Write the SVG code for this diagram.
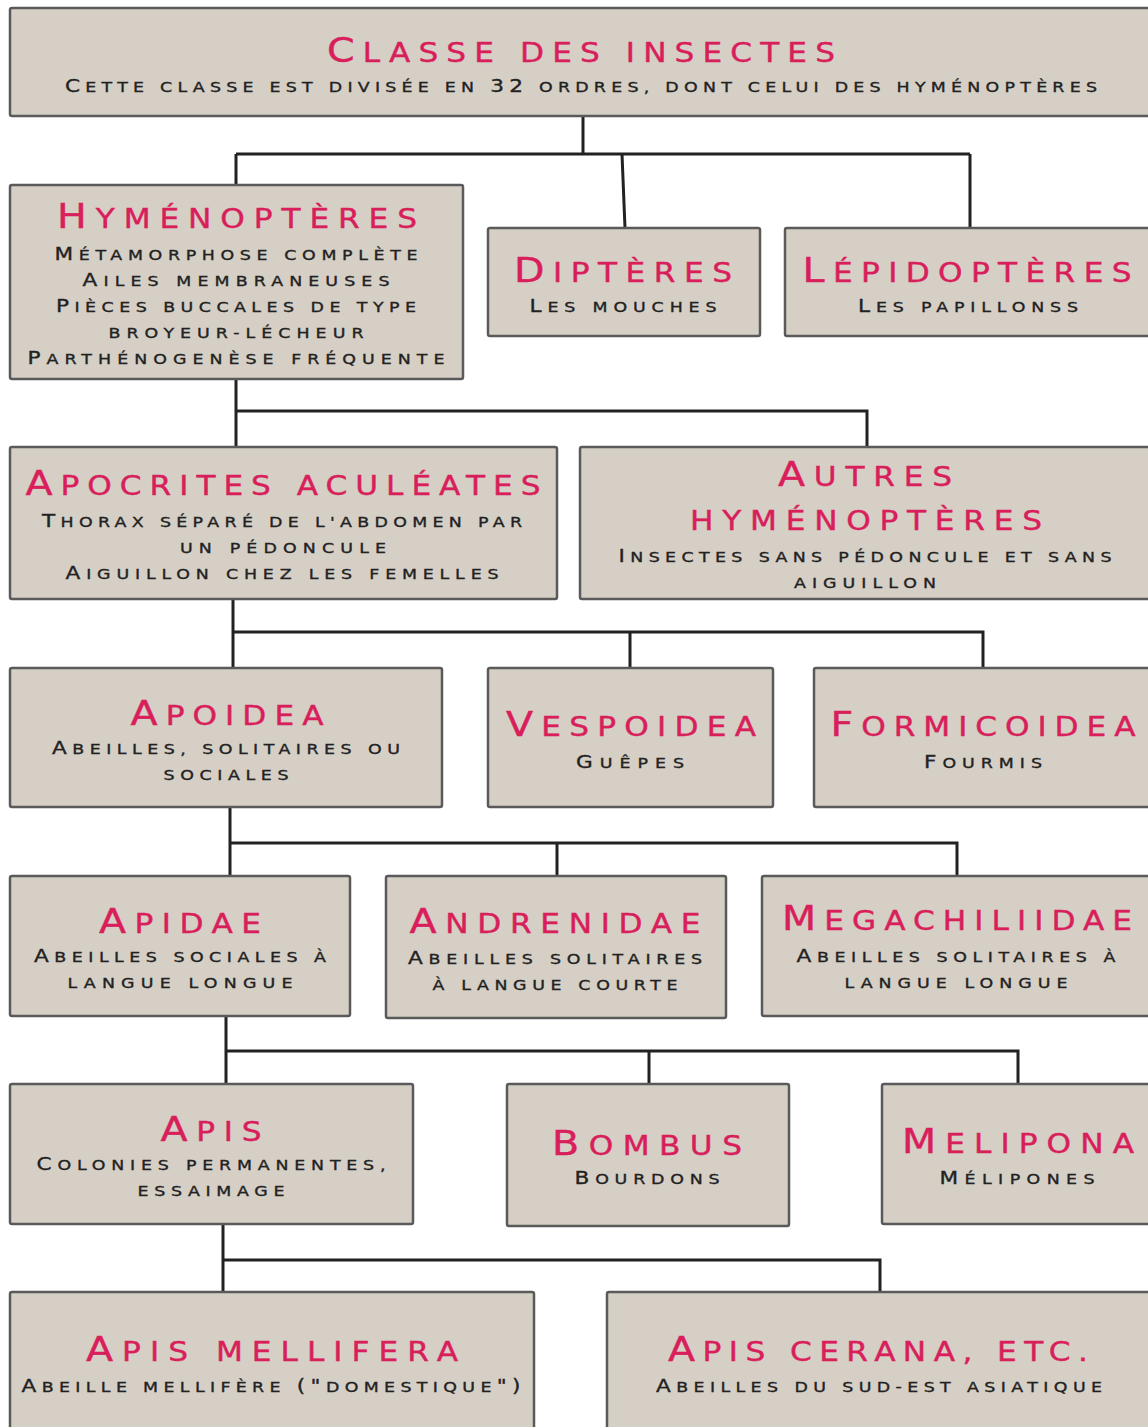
<svg xmlns="http://www.w3.org/2000/svg" width="1148" height="1427" viewBox="0 0 1148 1427">
<style>
.box{fill:#d6cfc5;stroke:#5a5a5a;stroke-width:2.5}
.t{font-family:"DejaVu Sans",sans-serif;font-size:26px;fill:#d81e5b;stroke:#d81e5b;stroke-width:0.4;text-anchor:middle}
.t .b{font-size:33px}
.s{font-family:"DejaVu Sans",sans-serif;font-size:14.5px;fill:#222;stroke:#222;stroke-width:0.35;text-anchor:middle}
.s .b{font-size:18px}
.c{fill:none;stroke:#222;stroke-width:3}
</style>
<rect width="1148" height="1427" fill="#fff"/>
<g id="connectors">
<path class="c" d="M583,116V154M236,154H970M236,154V185M622,154L625,228M970,154V228"/>
<path class="c" d="M236,379V411H867V447M236,411V447"/>
<path class="c" d="M233,599V632H983V668M233,632V668M630,632V668"/>
<path class="c" d="M230,807V843H957V876M230,843V876M557,843V876"/>
<path class="c" d="M226,1016V1051H1018V1084M226,1051V1084M649,1051V1084"/>
<path class="c" d="M223,1224V1260H880V1292M223,1260V1292"/>
</g>
<g id="insectes">
<rect class="box" x="10" y="8" width="1150" height="108" rx="2"/>
<text class="t" transform="translate(581 62) scale(1.2 1)" textLength="423.3"><tspan class="b">C</tspan>LASSE DES INSECTES</text>
<text class="s" transform="translate(581 92) scale(1.2 1)" textLength="860"><tspan class="b">C</tspan>ETTE CLASSE EST DIVISÉE EN <tspan class="b">32</tspan> ORDRES, DONT CELUI DES HYMÉNOPTÈRES</text>
</g>
<g id="hymenopteres">
<rect class="box" x="10" y="185" width="453" height="194" rx="2"/>
<text class="t" transform="translate(237 228) scale(1.2 1)" textLength="300"><tspan class="b">H</tspan>YMÉNOPTÈRES</text>
<text class="s" transform="translate(236 260) scale(1.2 1)" textLength="302.5"><tspan class="b">M</tspan>ÉTAMORPHOSE COMPLÈTE</text>
<text class="s" transform="translate(236 286) scale(1.2 1)" textLength="255.8"><tspan class="b">A</tspan>ILES MEMBRANEUSES</text>
<text class="s" transform="translate(236 312) scale(1.2 1)" textLength="300"><tspan class="b">P</tspan>IÈCES BUCCALES DE TYPE</text>
<text class="s" transform="translate(236 338) scale(1.2 1)" textLength="212.5">BROYEUR-LÉCHEUR</text>
<text class="s" transform="translate(236 364) scale(1.2 1)" textLength="347.5"><tspan class="b">P</tspan>ARTHÉNOGENÈSE FRÉQUENTE</text>
</g>
<g id="dipteres">
<rect class="box" x="488" y="228" width="272" height="108" rx="2"/>
<text class="t" transform="translate(623 282) scale(1.2 1)" textLength="181.7"><tspan class="b">D</tspan>IPTÈRES</text>
<text class="s" transform="translate(623 312) scale(1.2 1)" textLength="155.8"><tspan class="b">L</tspan>ES MOUCHES</text>
</g>
<g id="lepidopteres">
<rect class="box" x="785" y="228" width="375" height="108" rx="2"/>
<text class="t" transform="translate(967 282) scale(1.2 1)" textLength="274.2"><tspan class="b">L</tspan>ÉPIDOPTÈRES</text>
<text class="s" transform="translate(968 312) scale(1.2 1)" textLength="183.3"><tspan class="b">L</tspan>ES PAPILLONSS</text>
</g>
<g id="apocrites">
<rect class="box" x="10" y="447" width="547" height="152" rx="2"/>
<text class="t" transform="translate(283 495) scale(1.2 1)" textLength="429.2"><tspan class="b">A</tspan>POCRITES ACULÉATES</text>
<text class="s" transform="translate(282 527) scale(1.2 1)" textLength="400"><tspan class="b">T</tspan>HORAX SÉPARÉ DE L'ABDOMEN PAR</text>
<text class="s" transform="translate(283 553) scale(1.2 1)" textLength="171.7">UN PÉDONCULE</text>
<text class="s" transform="translate(282 579) scale(1.2 1)" textLength="360.8"><tspan class="b">A</tspan>IGUILLON CHEZ LES FEMELLES</text>
</g>
<g id="autres">
<rect class="box" x="580" y="447" width="580" height="152" rx="2"/>
<text class="t" transform="translate(865 486) scale(1.2 1)" textLength="145"><tspan class="b">A</tspan>UTRES</text>
<text class="t" transform="translate(866 530) scale(1.2 1)" textLength="293.3">HYMÉNOPTÈRES</text>
<text class="s" transform="translate(865 562) scale(1.2 1)" textLength="410.8"><tspan class="b">I</tspan>NSECTES SANS PÉDONCULE ET SANS</text>
<text class="s" transform="translate(865 588) scale(1.2 1)" textLength="118.3">AIGUILLON</text>
</g>
<g id="apoidea">
<rect class="box" x="10" y="668" width="432" height="139" rx="2"/>
<text class="t" transform="translate(227 725) scale(1.2 1)" textLength="160.8"><tspan class="b">A</tspan>POIDEA</text>
<text class="s" transform="translate(226 754) scale(1.2 1)" textLength="290"><tspan class="b">A</tspan>BEILLES, SOLITAIRES OU</text>
<text class="s" transform="translate(226 780) scale(1.2 1)" textLength="104.2">SOCIALES</text>
</g>
<g id="vespoidea">
<rect class="box" x="488" y="668" width="285" height="139" rx="2"/>
<text class="t" transform="translate(631 736) scale(1.2 1)" textLength="208.3"><tspan class="b">V</tspan>ESPOIDEA</text>
<text class="s" transform="translate(630 768) scale(1.2 1)" textLength="90"><tspan class="b">G</tspan>UÊPES</text>
</g>
<g id="formicoidea">
<rect class="box" x="814" y="668" width="346" height="139" rx="2"/>
<text class="t" transform="translate(983 736) scale(1.2 1)" textLength="254.2"><tspan class="b">F</tspan>ORMICOIDEA</text>
<text class="s" transform="translate(983 768) scale(1.2 1)" textLength="98.3"><tspan class="b">F</tspan>OURMIS</text>
</g>
<g id="apidae">
<rect class="box" x="10" y="876" width="340" height="140" rx="2"/>
<text class="t" transform="translate(180 933) scale(1.2 1)" textLength="135"><tspan class="b">A</tspan>PIDAE</text>
<text class="s" transform="translate(180 962) scale(1.2 1)" textLength="243.3"><tspan class="b">A</tspan>BEILLES SOCIALES À</text>
<text class="s" transform="translate(180 988) scale(1.2 1)" textLength="187.5">LANGUE LONGUE</text>
</g>
<g id="andrenidae">
<rect class="box" x="386" y="876" width="340" height="142" rx="2"/>
<text class="t" transform="translate(555 933) scale(1.2 1)" textLength="242.5"><tspan class="b">A</tspan>NDRENIDAE</text>
<text class="s" transform="translate(555 964) scale(1.2 1)" textLength="245"><tspan class="b">A</tspan>BEILLES SOLITAIRES</text>
<text class="s" transform="translate(555 990) scale(1.2 1)" textLength="204.2">À LANGUE COURTE</text>
</g>
<g id="megachiliidae">
<rect class="box" x="762" y="876" width="398" height="140" rx="2"/>
<text class="t" transform="translate(957 930) scale(1.2 1)" textLength="291.7"><tspan class="b">M</tspan>EGACHILIIDAE</text>
<text class="s" transform="translate(956 962) scale(1.2 1)" textLength="265.8"><tspan class="b">A</tspan>BEILLES SOLITAIRES À</text>
<text class="s" transform="translate(956 988) scale(1.2 1)" textLength="185.8">LANGUE LONGUE</text>
</g>
<g id="apis">
<rect class="box" x="10" y="1084" width="403" height="140" rx="2"/>
<text class="t" transform="translate(211 1141) scale(1.2 1)" textLength="84.2"><tspan class="b">A</tspan>PIS</text>
<text class="s" transform="translate(211 1170) scale(1.2 1)" textLength="290.8"><tspan class="b">C</tspan>OLONIES PERMANENTES,</text>
<text class="s" transform="translate(211 1196) scale(1.2 1)" textLength="122.5">ESSAIMAGE</text>
</g>
<g id="bombus">
<rect class="box" x="507" y="1084" width="282" height="142" rx="2"/>
<text class="t" transform="translate(647 1155) scale(1.2 1)" textLength="158.3"><tspan class="b">B</tspan>OMBUS</text>
<text class="s" transform="translate(647 1184) scale(1.2 1)" textLength="120.8"><tspan class="b">B</tspan>OURDONS</text>
</g>
<g id="melipona">
<rect class="box" x="882" y="1084" width="278" height="140" rx="2"/>
<text class="t" transform="translate(1018 1153) scale(1.2 1)" textLength="193.3"><tspan class="b">M</tspan>ELIPONA</text>
<text class="s" transform="translate(1017 1184) scale(1.2 1)" textLength="129.2"><tspan class="b">M</tspan>ÉLIPONES</text>
</g>
<g id="apis-mellifera">
<rect class="box" x="10" y="1292" width="524" height="150" rx="2"/>
<text class="t" transform="translate(272 1361) scale(1.2 1)" textLength="310"><tspan class="b">A</tspan>PIS MELLIFERA</text>
<text class="s" transform="translate(271 1392) scale(1.2 1)" textLength="415.8"><tspan class="b">A</tspan>BEILLE MELLIFÈRE <tspan class="b">("</tspan>DOMESTIQUE<tspan class="b">")</tspan></text>
</g>
<g id="apis-cerana">
<rect class="box" x="607" y="1292" width="553" height="150" rx="2"/>
<text class="t" transform="translate(878 1361) scale(1.2 1)" textLength="350"><tspan class="b">A</tspan>PIS CERANA, ETC.</text>
<text class="s" transform="translate(879 1392) scale(1.2 1)" textLength="371.7"><tspan class="b">A</tspan>BEILLES DU SUD-EST ASIATIQUE</text>
</g>
</svg>
